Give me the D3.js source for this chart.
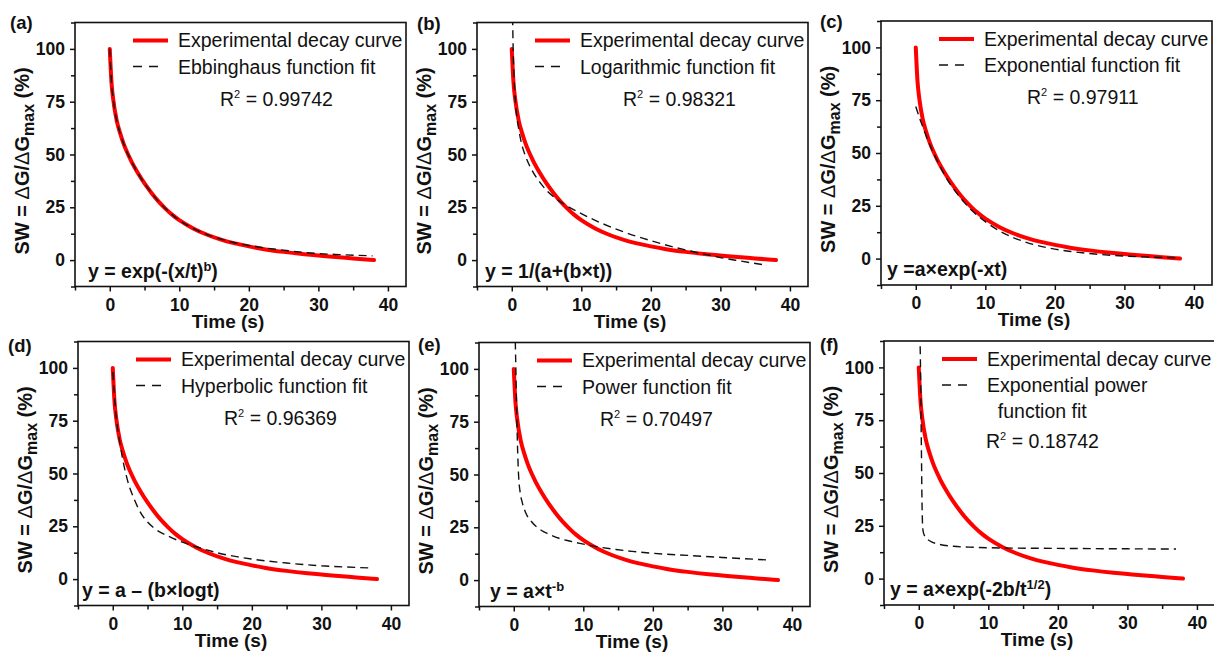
<!DOCTYPE html>
<html>
<head>
<meta charset="utf-8">
<script src="https://cdn.jsdelivr.net/npm/d3@7"></script>
<style>
  body { margin: 0; background: #fff; }
  svg { font-family: "Liberation Sans", Arial, sans-serif; }
</style>
</head>
<body>
<div id="my_dataviz"></div>
<script>
// experimental decay curve (same in every panel)
var expTime  = [0, 0.25, 0.5, 1, 1.5, 2, 3, 4, 5, 6, 7, 8, 9, 10, 12, 14, 16, 18, 20, 22, 25, 28, 30, 32, 35, 38];
var expValue = [100, 84, 76, 66, 60, 55, 47.5, 41.5, 36.3, 31.8, 27.8, 24.4, 21.4, 18.9, 15.0, 12.0, 9.7, 7.9, 6.5, 5.3, 3.9, 2.8, 2.2, 1.6, 0.8, 0];

// fitted curves
var ebbinghausTime  = [0, 0.25, 0.5, 1, 1.5, 2, 3, 4, 5, 6, 7, 8, 9, 10, 12, 14, 16, 18, 20, 22, 25, 28, 30, 33, 37.8];
var ebbinghausValue = [100, 84, 76, 66, 60, 55, 47.5, 41.5, 36.3, 31.8, 27.8, 24.4, 21.4, 18.9, 15.0, 12.1, 9.9, 8.2, 6.9, 5.9, 4.7, 3.6, 3.1, 2.6, 2.0];

var logTime  = [0.12, 0.2, 0.35, 0.6, 1, 1.5, 2, 3, 4, 5, 6, 8, 10, 12, 14, 16, 18, 20, 22, 25, 28, 30, 33, 36.7];
var logValue = [115, 100, 85, 72, 62, 54, 49, 42, 37, 33, 30, 25.5, 22, 18.8, 16, 13.5, 11.2, 9.2, 7.3, 4.8, 2.6, 1.2, -0.5, -2.5];

var expFitTime  = [0, 0.5, 1, 1.5, 2, 3, 4, 5, 6, 7, 8, 10, 12, 14, 16, 18, 20, 22, 25, 28, 30, 33, 37.4];
var expFitValue = [72, 67, 62.5, 58, 54, 47, 40.5, 35, 30.5, 26.5, 23, 17.5, 13.2, 10, 7.6, 5.8, 4.5, 3.5, 2.4, 1.6, 1.2, 0.8, 0.4];

var hyperTime  = [0, 0.4, 1.1, 2.1, 3, 4, 5, 6, 8, 10, 12, 15, 18, 20, 25, 30, 33, 36.9];
var hyperValue = [98, 80, 63, 47, 38.5, 31.5, 27, 24, 20.3, 17.5, 15.3, 12.5, 10.5, 9.5, 7.6, 6.3, 5.8, 5.3];

var powerTime  = [0.22, 0.3, 0.35, 0.45, 0.55, 0.7, 0.9, 1.2, 1.7, 2.6, 4, 5, 6.5, 8, 9.5, 12, 14.7, 17, 20, 25, 30, 36.8];
var powerValue = [113, 100, 91, 75, 62, 49, 42, 37, 32, 27.5, 23.5, 21.8, 19.8, 18.5, 17.4, 15.8, 14.5, 13.6, 12.7, 11.7, 10.7, 9.5];

var expPowerTime  = [0.2, 0.25, 0.3, 0.35, 0.4, 0.45, 0.5, 0.6, 0.8, 1.2, 2, 3, 5, 8, 12, 20, 30, 37];
var expPowerValue = [110, 100, 85, 70, 55, 40, 30, 23, 20.5, 18.8, 17.2, 16.2, 15.3, 14.8, 14.5, 14.3, 14.1, 14.0];

// text
var panelLetters = ["(a)", "(b)", "(c)", "(d)", "(e)", "(f)"];
var fitNames = [["Ebbinghaus function fit"], ["Logarithmic function fit"], ["Exponential function fit"],
                ["Hyperbolic function fit"], ["Power function fit"], ["Exponential power", "  function fit"]];
var rSquared = ["0.99742", "0.98321", "0.97911", "0.96369", "0.70497", "0.18742"];
var formulas = [
  [["y = exp(-(x/t)", 0], ["b", 1], [")", 0]],
  [["y = 1/(a+(b\u00d7t))", 0]],
  [["y =a\u00d7exp(-xt)", 0]],
  [["y = a \u2013 (b\u00d7logt)", 0]],
  [["y = a\u00d7t", 0], ["-b", 1]],
  [["y = a\u00d7exp(-2b/t", 0], ["1/2", 1], [")", 0]]
];
var xMajor = [0, 10, 20, 30, 40];
var xMinor = [-5, 5, 15, 25, 35];
var yMajor = [0, 25, 50, 75, 100];
var yMinor = [-12.5, 12.5, 37.5, 62.5, 87.5, 112.5];

var fits = [
  [ebbinghausTime, ebbinghausValue], [logTime, logValue], [expFitTime, expFitValue],
  [hyperTime, hyperValue], [powerTime, powerValue], [expPowerTime, expPowerValue]
];

// layout
var lefts = [75, 477, 881, 78, 479, 884];
var tops = [22.5, 22.5, 21, 341.5, 342.5, 341];
var W = 331, H = 264;
var letterDx = [-65, -60, -61, -70, -61, -64];
var letterDy = [6, 7, 7, 10, 8, 10];
var formulaDx = [13, 8, 6, 4, 11, 6];
var r2Dx = [145, 146, 146, 146, 121, 102];

var svg = d3.select("#my_dataviz")
  .append("svg")
  .attr("width", 1214)
  .attr("height", 652);

fits.forEach(function (fit, i) {
  var g = svg.append("g").attr("transform", "translate(" + lefts[i] + "," + tops[i] + ")");

  var x = d3.scaleLinear().domain([-5, 42.6]).range([0, W]);
  var y = d3.scaleLinear().domain([-12.5, 112.5]).range([H, 0]);

  g.append("clipPath").attr("id", "clip" + i)
    .append("rect").attr("width", W).attr("height", H);

  // axes
  g.append("g").attr("transform", "translate(0," + H + ")")
    .call(d3.axisBottom(x).tickValues(xMajor).tickSize(5).tickSizeOuter(0).tickPadding(7));
  g.append("g").attr("transform", "translate(0," + H + ")")
    .call(d3.axisBottom(x).tickValues(xMinor).tickSize(4).tickFormat(""));
  g.append("g")
    .call(d3.axisLeft(y).tickValues(yMajor).tickSize(5).tickSizeOuter(0).tickPadding(5));
  g.append("g")
    .call(d3.axisLeft(y).tickValues(yMinor).tickSize(4).tickFormat(""));

  g.selectAll(".tick line").attr("stroke", "#111").attr("stroke-width", 1.5);
  g.selectAll(".tick text")
    .attr("font-family", "Liberation Sans, Arial, sans-serif")
    .attr("font-size", 17.5).attr("font-weight", "bold").attr("fill", "#111");
  g.selectAll(".domain").remove();

  // frame
  g.append("rect").attr("width", W).attr("height", H)
    .attr("fill", "none").attr("stroke", "#111").attr("stroke-width", 1.6);

  // curves
  var line = d3.line()
    .x(function (d) { return x(d[0]); })
    .y(function (d) { return y(d[1]); })
    .curve(d3.curveMonotoneX);

  var expData = expTime.map(function (t, k) { return [t, expValue[k]]; });
  var fitData = fit[0].map(function (t, k) { return [t, fit[1][k]]; });

  g.append("path").datum(expData)
    .attr("clip-path", "url(#clip" + i + ")")
    .attr("fill", "none").attr("stroke", "#ff0000").attr("stroke-width", 4)
    .attr("stroke-linecap", "round")
    .attr("d", line);

  g.append("path").datum(fitData)
    .attr("clip-path", "url(#clip" + i + ")")
    .attr("fill", "none").attr("stroke", "#111").attr("stroke-width", 1.4)
    .attr("stroke-dasharray", "8,5")
    .attr("d", line);

  // legend
  g.append("line").attr("x1", 58).attr("x2", 93).attr("y1", 18).attr("y2", 18)
    .attr("stroke", "#ff0000").attr("stroke-width", 4);
  g.append("line").attr("x1", 58).attr("x2", 84).attr("y1", 44).attr("y2", 44)
    .attr("stroke", "#111").attr("stroke-width", 1.4).attr("stroke-dasharray", "9,7");

  g.append("text").attr("x", 103).attr("y", 24.5)
    .attr("font-size", 19.5).attr("fill", "#111")
    .text("Experimental decay curve");
  fitNames[i].forEach(function (s, k) {
    g.append("text").attr("x", 103).attr("y", 51 + k * 26)
      .attr("font-size", 19.5).attr("fill", "#111").attr("xml:space", "preserve")
      .text(s);
  });
  var r2 = g.append("text").attr("x", r2Dx[i]).attr("y", fitNames[i].length > 1 ? 107 : 83)
    .attr("font-size", 19.5).attr("fill", "#111");
  r2.append("tspan").text("R");
  r2.append("tspan").attr("font-size", 11).attr("dy", -8).text("2");
  r2.append("tspan").attr("dy", 8).text(" = " + rSquared[i]);

  // formula
  var f = g.append("text").attr("x", formulaDx[i]).attr("y", H - 9)
    .attr("font-size", 19.5).attr("font-weight", "bold").attr("fill", "#111");
  var up = 0;
  formulas[i].forEach(function (seg) {
    var ts = f.append("tspan").text(seg[0]);
    if (seg[1] && !up) { ts.attr("font-size", 13).attr("dy", -7); up = 1; }
    else if (!seg[1] && up) { ts.attr("dy", 7); up = 0; }
  });

  // panel letter
  g.append("text").attr("x", letterDx[i]).attr("y", letterDy[i])
    .attr("font-size", 18.5).attr("font-weight", "bold").attr("fill", "#111")
    .text(panelLetters[i]);

  // axis titles
  g.append("text").attr("x", x(17)).attr("y", H + 41)
    .attr("text-anchor", "middle")
    .attr("font-size", 19).attr("font-weight", "bold").attr("fill", "#111")
    .text("Time (s)");

  var yl = g.append("text")
    .attr("transform", "translate(-46," + y(47) + ") rotate(-90)")
    .attr("text-anchor", "middle")
    .attr("font-size", 20).attr("font-weight", "bold").attr("fill", "#111");
  yl.append("tspan").text("SW = ");
  yl.append("tspan").attr("font-weight", "normal").text("\u0394");
  yl.append("tspan").text("G/");
  yl.append("tspan").attr("font-weight", "normal").text("\u0394");
  yl.append("tspan").text("G");
  yl.append("tspan").attr("font-size", 16).attr("dy", 5).text("max");
  yl.append("tspan").attr("dy", -5).text(" (%)");
});
</script>
</body>
</html>
